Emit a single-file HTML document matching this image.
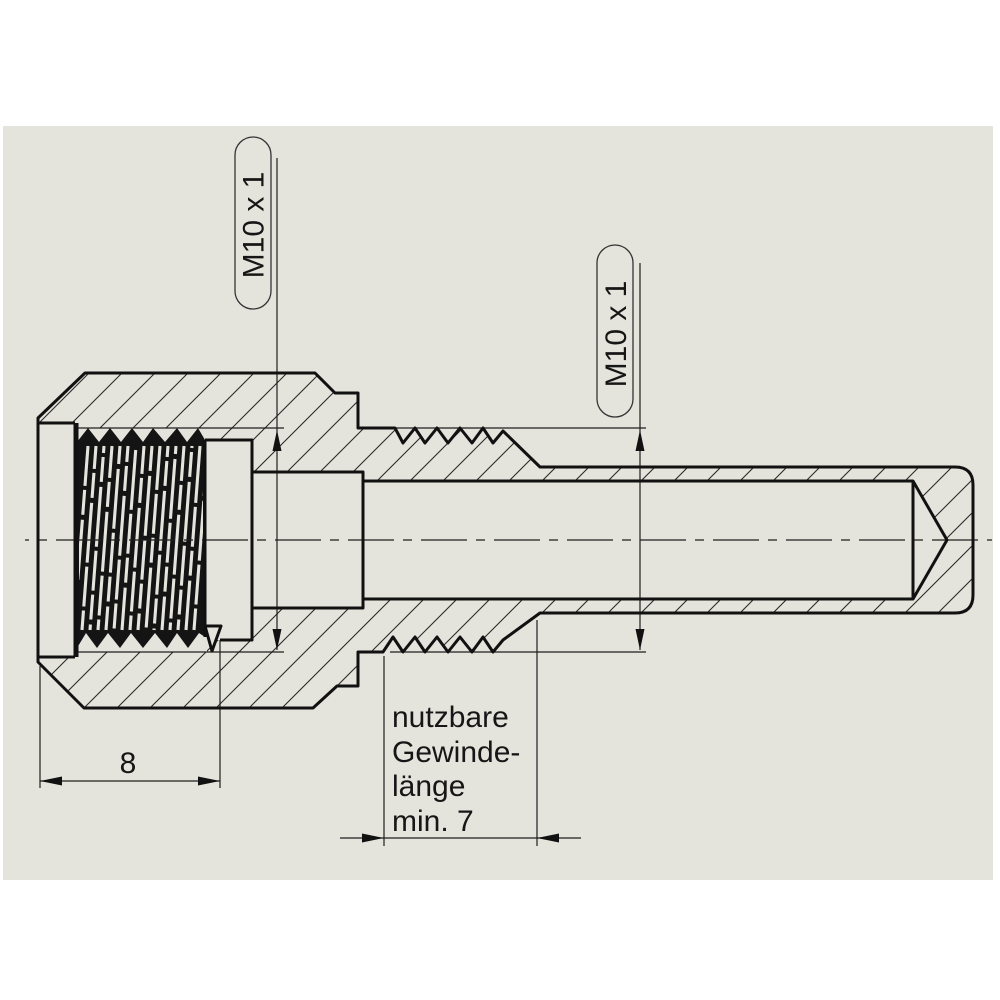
<!DOCTYPE html>
<html>
<head>
<meta charset="utf-8">
<style>
html,body{margin:0;padding:0;background:#fff;}
svg{display:block}
text{font-family:"Liberation Sans",Arial,sans-serif;fill:#161616;}
</style>
</head>
<body>
<svg width="1000" height="1000" viewBox="0 0 1000 1000" xmlns="http://www.w3.org/2000/svg">
<defs>
  <pattern id="h" patternUnits="userSpaceOnUse" width="33" height="33">
    <path d="M-1,34 L34,-1 M-6,6 L6,-6 M27,39 L39,27" stroke="#2a2a2a" stroke-width="1.1" fill="none"/>
  </pattern>
  <clipPath id="tc"><rect x="79" y="444" width="124" height="188"/></clipPath>
</defs>

<!-- panel -->
<rect x="3" y="126" width="990" height="754" fill="#e4e4dd"/>

<!-- body material (hatched) -->
<path d="M38,418 L85,373 L315,373 L335,393 L358,393 L358,428 L395,428 L403,443 L415,428 L425,443 L437,428 L448,443 L460,428 L472,443 L483,428 L493,443 L503,431 L540,467 L955,467 Q973,467 973,485 L973,595 Q973,613 955,613 L540,613 L503,640 L493,652 L483,637 L472,652 L460,637 L448,652 L437,637 L425,652 L415,637 L403,652 L393,637 L383,652 L358,652 L358,686 L337,686 L313,708 L84,708 L38,662 Z" fill="url(#h)"/>

<!-- cavity -->
<path d="M38,423 L75,423 L75,428 L207,428 L207,440 L252,440 L252,472 L363,472 L363,481 L913,481 L947,540 L913,599 L363,599 L363,608 L252,608 L252,640 L207,640 L207,652 L75,652 L75,657 L38,657 Z" fill="#e4e4dd"/>

<!-- internal thread dark zone -->
<path d="M77,442 L88,428 L99,442 L110,428 L121,442 L132,428 L143,442 L153,428 L165,442 L177,428 L187,442 L198,428 L205,440 L205,637 L199,633 L188,648 L177,633 L167,648 L155,633 L143,648 L131,633 L120,648 L108,633 L97,648 L86,633 L77,648 Z" fill="#141414"/>
<g clip-path="url(#tc)" stroke="#e4e4dd" stroke-width="3.1" stroke-dasharray="40 4 25 5 60 4">
  <line x1="88" y1="446" x2="74" y2="630" stroke-dashoffset="0"/>
  <line x1="96" y1="446" x2="82" y2="630" stroke-dashoffset="17"/>
  <line x1="104" y1="446" x2="90" y2="630" stroke-dashoffset="33"/>
  <line x1="112" y1="446" x2="98" y2="630" stroke-dashoffset="8"/>
  <line x1="120" y1="446" x2="106" y2="630" stroke-dashoffset="51"/>
  <line x1="128" y1="446" x2="114" y2="630" stroke-dashoffset="24"/>
  <line x1="136" y1="446" x2="122" y2="630" stroke-dashoffset="70"/>
  <line x1="144" y1="446" x2="130" y2="630" stroke-dashoffset="12"/>
  <line x1="152" y1="446" x2="138" y2="630" stroke-dashoffset="44"/>
  <line x1="160" y1="446" x2="146" y2="630" stroke-dashoffset="90"/>
  <line x1="168" y1="446" x2="154" y2="630" stroke-dashoffset="29"/>
  <line x1="176" y1="446" x2="162" y2="630" stroke-dashoffset="61"/>
  <line x1="184" y1="446" x2="170" y2="630" stroke-dashoffset="5"/>
  <line x1="192" y1="446" x2="178" y2="630" stroke-dashoffset="38"/>
  <line x1="200" y1="446" x2="186" y2="630" stroke-dashoffset="77"/>
  <line x1="208" y1="446" x2="194" y2="630" stroke-dashoffset="19"/>
</g>

<!-- thin lines -->
<g stroke="#1e1e1e" stroke-width="1.2" fill="none">
  <!-- centre line -->
  <line x1="25" y1="540" x2="992" y2="540" stroke-dasharray="46 9 9 9" stroke-dashoffset="42"/>
  <!-- thread major lines / extension -->
  <line x1="77" y1="428" x2="284" y2="428"/>
  <line x1="77" y1="652" x2="284" y2="652"/>
  <line x1="383" y1="428" x2="646" y2="428"/>
  <line x1="390" y1="652" x2="646" y2="652"/>
  <!-- M10 dim lines -->
  <line x1="277" y1="158" x2="277" y2="650"/>
  <line x1="640" y1="263" x2="640" y2="650"/>
  <!-- dim 8 -->
  <line x1="40" y1="666" x2="40" y2="788"/>
  <line x1="220" y1="640" x2="220" y2="788"/>
  <line x1="40" y1="781" x2="220" y2="781"/>
  <!-- dim min 7 -->
  <line x1="384" y1="656" x2="384" y2="846"/>
  <line x1="537" y1="620" x2="537" y2="846"/>
  <line x1="340" y1="838" x2="581" y2="838"/>
</g>

<!-- thick outlines -->
<g stroke="#111" stroke-width="3" fill="none" stroke-linejoin="round">
  <path d="M38,418 L85,373 L315,373 L335,393 L358,393 L358,428 L395,428 L403,443 L415,428 L425,443 L437,428 L448,443 L460,428 L472,443 L483,428 L493,443 L503,431 L540,467 L955,467 Q973,467 973,485 L973,595 Q973,613 955,613 L540,613 L503,640 L493,652 L483,637 L472,652 L460,637 L448,652 L437,637 L425,652 L415,637 L403,652 L393,637 L383,652 L358,652 L358,686 L337,686 L313,708 L84,708 L38,662 Z"/>
  <path d="M38,423 L75,423 M38,657 L75,657"/>
  <path d="M76,423 L76,657" stroke-width="5"/>
  <path d="M205,440 L252,440 L252,640 L220,640 M205,440 L205,637"/>
  <path d="M252,472 L363,472 L363,608 L252,608"/>
  <path d="M363,481 L913,481 L947,540 L913,599 L363,599 M913,481 L913,599"/>
  <path d="M205,626 L221,626 L212,651 Z" fill="#e4e4dd"/>
</g>

<!-- arrowheads -->
<g fill="#111">
  <polygon points="277,430 272.5,451 281.5,451"/>
  <polygon points="277,650 272.5,629 281.5,629"/>
  <polygon points="640,430 635.5,451 644.5,451"/>
  <polygon points="640,650 635.5,629 644.5,629"/>
  <polygon points="40,781 62,776.5 62,785.5"/>
  <polygon points="220,781 198,776.5 198,785.5"/>
  <polygon points="384,838 362,833.5 362,842.5"/>
  <polygon points="537,838 559,833.5 559,842.5"/>
</g>

<!-- pills -->
<rect x="235" y="137" width="36" height="172" rx="18" ry="18" fill="none" stroke="#333" stroke-width="1.3"/>
<rect x="597" y="245" width="36" height="172" rx="18" ry="18" fill="none" stroke="#333" stroke-width="1.3"/>
<text x="0" y="0" font-size="30" text-anchor="middle" transform="translate(263.5,225) rotate(-90)">M10 x 1</text>
<text x="0" y="0" font-size="30" text-anchor="middle" transform="translate(626,334) rotate(-90)">M10 x 1</text>

<!-- labels -->
<text x="128" y="773" font-size="30" text-anchor="middle">8</text>
<text x="392" y="727" font-size="30">nutzbare</text>
<text x="392" y="762" font-size="30">Gewinde-</text>
<text x="392" y="796" font-size="30">länge</text>
<text x="392" y="831" font-size="30">min. 7</text>
</svg>
</body>
</html>
